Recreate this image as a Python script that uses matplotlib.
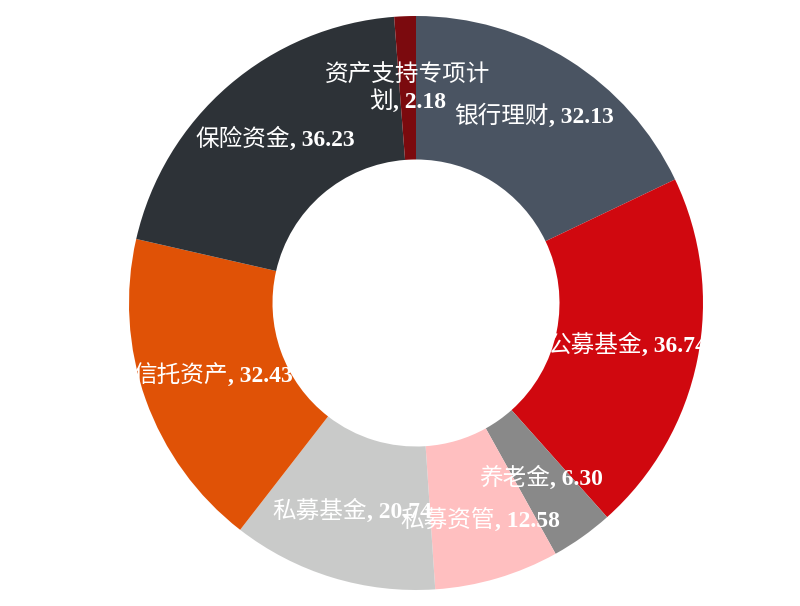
import matplotlib.pyplot as plt
from matplotlib.offsetbox import TextArea, HPacker, VPacker, AnnotationBbox
import numpy as np

labels = ['银行理财', '公募基金', '养老金', '私募资管', '私募基金', '信托资产', '保险资金', '资产支持专项计划']
values = [32.13, 36.74, 6.30, 12.58, 20.74, 32.43, 36.23, 2.18]
colors = ['#4a5462', '#d0080f', '#898989', '#ffbfc0', '#c9cac9', '#e05206', '#2d3237', '#7b0a0e']
# where each label sits, as a fraction of the outer radius
label_r = [0.77, 0.75, 0.75, 0.79, 0.76, 0.75, 0.75, 0.75]

fig = plt.figure(figsize=(8, 6.06), dpi=100)
ax = fig.add_axes([129 / 800, 16 / 606, 574 / 800, 574 / 606])

wedges, _ = ax.pie(values, colors=colors, startangle=90, counterclock=False,
                   radius=1.0, wedgeprops=dict(width=0.5, linewidth=0))
ax.set_xlim(-1, 1)
ax.set_ylim(-1, 1)
ax.set_aspect('equal')
ax.axis('off')

cjk = dict(color='white', fontsize=17, family='Noto Sans CJK SC', fontweight='normal')
num = dict(color='white', fontsize=17, family='Liberation Serif', fontweight='bold')


def make_label(name, v):
    # long names wrap after 7 characters, like the original
    if len(name) > 7:
        top = TextArea(name[:7], textprops=cjk)
        bottom = HPacker(children=[TextArea(name[7:], textprops=cjk),
                                   TextArea(', %.2f' % v, textprops=num)],
                         pad=0, sep=0, align='baseline')
        return VPacker(children=[top, bottom], pad=0, sep=3, align='center')
    return HPacker(children=[TextArea(name, textprops=cjk),
                             TextArea(', %.2f' % v, textprops=num)],
                   pad=0, sep=0, align='baseline')


for w, name, v, r in zip(wedges, labels, values, label_r):
    ang = np.deg2rad((w.theta1 + w.theta2) / 2)
    x, y = r * np.cos(ang), r * np.sin(ang)
    ab = AnnotationBbox(make_label(name, v), (x, y), frameon=False,
                        box_alignment=(0.5, 0.5), pad=0)
    ax.add_artist(ab)

fig.savefig('out.png', dpi=100)
